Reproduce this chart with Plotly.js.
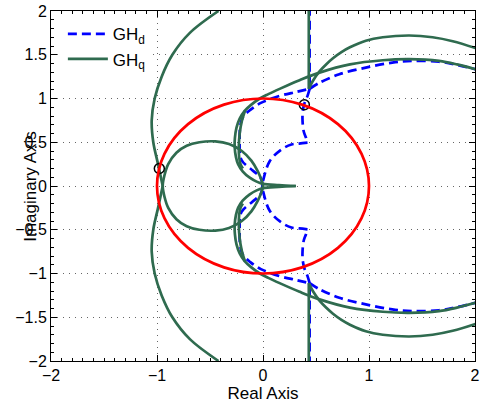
<!DOCTYPE html>
<html>
<head>
<meta charset="utf-8">
<script src="https://cdn.plot.ly/plotly-3.0.1.min.js"></script>
<style>html,body{margin:0;padding:0;background:#fff;}#chart{width:482px;height:410px;}</style>
</head>
<body>
<div id="chart"></div>
<script>
// ================= GH_q (solid green) =================
var gqVertTopX = [0.432, 0.432];
var gqVertTopY = [2.05, 1.11];
var gqVertBotX = [0.432, 0.432];
var gqVertBotY = [-2.05, -1.11];

var gqUpperArcX = [0.432, 0.47, 0.533, 0.6, 0.66, 0.74, 0.82, 0.97, 1.13, 1.38, 1.6, 1.79, 2.02];
var gqUpperArcY = [1.11, 1.2, 1.31, 1.395, 1.46, 1.53, 1.585, 1.66, 1.70, 1.72, 1.70, 1.655, 1.57];
var gqLowerArcX = [0.432, 0.47, 0.533, 0.6, 0.66, 0.74, 0.82, 0.97, 1.13, 1.38, 1.6, 1.79, 2.02];
var gqLowerArcY = [-1.11, -1.2, -1.31, -1.395, -1.46, -1.53, -1.585, -1.66, -1.70, -1.72, -1.70, -1.655, -1.57];

var gqOuterCTopX = [2.02, 1.83, 1.66, 1.38, 1.13, 0.82, 0.533, 0.345, 0.157, 0.05, -0.03, -0.11, -0.173, -0.22, -0.25, -0.265, -0.267, -0.255, -0.235, -0.19, -0.125, -0.06, 0.0, 0.15, 0.31];
var gqOuterCTopY = [1.33, 1.39, 1.43, 1.449, 1.437, 1.39, 1.296, 1.209, 1.11, 1.05, 1.0, 0.93, 0.858, 0.77, 0.668, 0.55, 0.44, 0.33, 0.25, 0.165, 0.095, 0.05, 0.025, 0.01, 0.0];
var gqOuterCBotX = [2.02, 1.83, 1.66, 1.38, 1.13, 0.82, 0.533, 0.345, 0.157, 0.05, -0.03, -0.11, -0.173, -0.22, -0.25, -0.265, -0.267, -0.255, -0.235, -0.19, -0.125, -0.06, 0.0, 0.15, 0.31];
var gqOuterCBotY = [-1.33, -1.39, -1.43, -1.449, -1.437, -1.39, -1.296, -1.209, -1.11, -1.05, -1.0, -0.93, -0.858, -0.77, -0.668, -0.55, -0.44, -0.33, -0.25, -0.165, -0.095, -0.05, -0.025, -0.01, 0.0];

var gqInnerCTopX = [-0.17, -0.2, -0.22, -0.228, -0.225, -0.212, -0.19];
var gqInnerCTopY = [0.86, 0.74, 0.6, 0.45, 0.33, 0.25, 0.2];
var gqInnerCBotX = [-0.17, -0.2, -0.22, -0.228, -0.225, -0.212, -0.19];
var gqInnerCBotY = [-0.86, -0.74, -0.6, -0.45, -0.33, -0.25, -0.2];

var gqLoopX = [0.0, -0.015, -0.05, -0.11, -0.2, -0.32, -0.45, -0.6, -0.72, -0.817, -0.894, -0.93, -0.946,
               -0.93, -0.894, -0.817, -0.72, -0.6, -0.45, -0.32, -0.2, -0.11, -0.05, -0.015, 0.0];
var gqLoopY = [0.0, 0.07, 0.17, 0.29, 0.4, 0.48, 0.51, 0.5, 0.46, 0.38, 0.25, 0.12, 0.0,
               -0.12, -0.25, -0.38, -0.46, -0.5, -0.51, -0.48, -0.4, -0.29, -0.17, -0.07, 0.0];

var gqBigArcTopX = [-0.42, -0.69, -0.855, -0.956, -1.022, -1.05, -1.035, -0.99, -0.946];
var gqBigArcTopY = [2.0, 1.75, 1.5, 1.25, 1.0, 0.75, 0.5, 0.25, 0.0];
var gqBigArcBotX = [-0.42, -0.69, -0.855, -0.956, -1.022, -1.05, -1.035, -0.99, -0.946];
var gqBigArcBotY = [-2.0, -1.75, -1.5, -1.25, -1.0, -0.75, -0.5, -0.25, 0.0];

// ================= GH_d (dashed blue) =================
var gdVertTopX = [0.44, 0.44];
var gdVertTopY = [2.05, 1.11];
var gdVertBotX = [0.44, 0.44];
var gdVertBotY = [-2.05, -1.11];

var gdDropTopX = [0.44, 0.42, 0.39, 0.375, 0.373, 0.385, 0.405, 0.42];
var gdDropTopY = [1.11, 1.03, 0.94, 0.85, 0.744, 0.62, 0.554, 0.495];
var gdDropBotX = [0.44, 0.42, 0.39, 0.375, 0.373, 0.385, 0.405, 0.42];
var gdDropBotY = [-1.11, -1.03, -0.94, -0.85, -0.744, -0.62, -0.554, -0.495];

var gdSwingAX = [0.42, 0.34, 0.268, 0.173, 0.063, 0.0, -0.02, -0.1, -0.204, -0.22, -0.213, -0.188, -0.12, -0.02, 0.157, 0.315, 0.44];
var gdSwingAY = [0.495, 0.485, 0.474, 0.417, 0.283, 0.055, -0.09, -0.18, -0.3, -0.51, -0.70, -0.79, -0.87, -0.95, -1.03, -1.075, -1.11];
var gdSwingBX = [0.42, 0.34, 0.268, 0.173, 0.063, 0.0, -0.02, -0.1, -0.204, -0.22, -0.213, -0.188, -0.12, -0.02, 0.157, 0.315, 0.44];
var gdSwingBY = [-0.495, -0.485, -0.474, -0.417, -0.283, -0.055, 0.09, 0.18, 0.3, 0.51, 0.70, 0.79, 0.87, 0.95, 1.03, 1.075, 1.11];

var gdArcTopX = [0.44, 0.533, 0.72, 0.97, 1.22, 1.41, 1.66, 1.83, 2.02];
var gdArcTopY = [1.11, 1.18, 1.277, 1.353, 1.41, 1.43, 1.42, 1.385, 1.33];
var gdArcBotX = [0.44, 0.533, 0.72, 0.97, 1.22, 1.41, 1.66, 1.83, 2.02];
var gdArcBotY = [-1.11, -1.18, -1.277, -1.353, -1.41, -1.43, -1.42, -1.385, -1.33];

// ================= crossing markers =================
var markX = [-0.978, 0.39];
var markY = [0.2, 0.928];

// ================= axis ticks =================
var xTicks = [-2, -1, 0, 1, 2];
var yTicks = [-2, -1.5, -1, -0.5, 0, 0.5, 1, 1.5, 2];

var green = '#2f6b4f', blue = '#0000ff';
var FONT = 'Liberation Sans, Arial, Helvetica, sans-serif';
function gq(x, y, show) {
  return {x: x, y: y, type: 'scatter', mode: 'lines', name: 'GH<sub>q</sub>', legendgroup: 'q',
          showlegend: !!show, line: {color: green, width: 2.7, shape: 'spline', smoothing: 1}, hoverinfo: 'skip'};
}
function gd(x, y, show) {
  return {x: x, y: y, type: 'scatter', mode: 'lines', name: 'GH<sub>d</sub>', legendgroup: 'd',
          showlegend: !!show, line: {color: blue, width: 2.7, dash: '9px,5px', shape: 'spline', smoothing: 1}, hoverinfo: 'skip'};
}
var traces = [
  gd(gdVertTopX, gdVertTopY, true),
  gd(gdVertBotX, gdVertBotY),
  gd(gdDropTopX, gdDropTopY),
  gd(gdDropBotX, gdDropBotY),
  gd(gdSwingAX, gdSwingAY),
  gd(gdSwingBX, gdSwingBY),
  gd(gdArcTopX, gdArcTopY),
  gd(gdArcBotX, gdArcBotY),
  gq(gqVertTopX, gqVertTopY, true),
  gq(gqVertBotX, gqVertBotY),
  gq(gqUpperArcX, gqUpperArcY),
  gq(gqLowerArcX, gqLowerArcY),
  gq(gqOuterCTopX, gqOuterCTopY),
  gq(gqOuterCBotX, gqOuterCBotY),
  gq(gqInnerCTopX, gqInnerCTopY),
  gq(gqInnerCBotX, gqInnerCBotY),
  gq(gqLoopX, gqLoopY),
  gq(gqBigArcTopX, gqBigArcTopY),
  gq(gqBigArcBotX, gqBigArcBotY),
  {x: markX, y: markY, type: 'scatter', mode: 'markers', showlegend: false, hoverinfo: 'skip',
   marker: {symbol: 'circle-open', size: 10, color: '#000', line: {width: 1.5, color: '#000'}}}
];

var axCommon = {
  showline: true, linecolor: '#000', linewidth: 1, mirror: 'allticks',
  ticks: 'inside', ticklen: 6, tickcolor: '#000', tickwidth: 1,
  showgrid: true, gridcolor: '#666', griddash: '1px,5px', gridwidth: 1,
  zeroline: false, tickfont: {family: FONT, size: 16, color: '#000'},
  minor: {ticks: 'inside', ticklen: 3, tickcolor: '#000', dtick: 0.1, showgrid: false},
  automargin: false
};
var layout = {
  width: 482, height: 410,
  margin: {l: 51, r: 7, t: 11, b: 49},
  paper_bgcolor: '#fff', plot_bgcolor: '#fff',
  showlegend: true,
  legend: {x: 0.028, y: 0.985, xanchor: 'left', yanchor: 'top', bgcolor: 'rgba(255,255,255,1)',
           borderwidth: 0, font: {family: FONT, size: 17, color: '#000'},
           itemwidth: 40, traceorder: 'normal'},
  xaxis: Object.assign({}, axCommon, {range: [-2, 2], tickvals: xTicks,
          title: {text: 'Real Axis', font: {family: FONT, size: 17, color: '#000'}, standoff: 2}}),
  yaxis: Object.assign({}, axCommon, {range: [-2, 2], tickvals: yTicks}),
  shapes: [{type: 'circle', xref: 'x', yref: 'y', x0: -1, x1: 1, y0: -1, y1: 1,
            line: {color: '#ff0000', width: 2.7}, layer: 'above'}],
  annotations: [{text: 'Imaginary Axis', xref: 'paper', yref: 'paper', x: -0.05, y: 0.5,
                 xanchor: 'center', yanchor: 'middle', textangle: -90, showarrow: false,
                 font: {family: FONT, size: 17, color: '#000'}}]
};
Plotly.newPlot('chart', traces, layout, {staticPlot: true, displayModeBar: false});
</script>
</body>
</html>
